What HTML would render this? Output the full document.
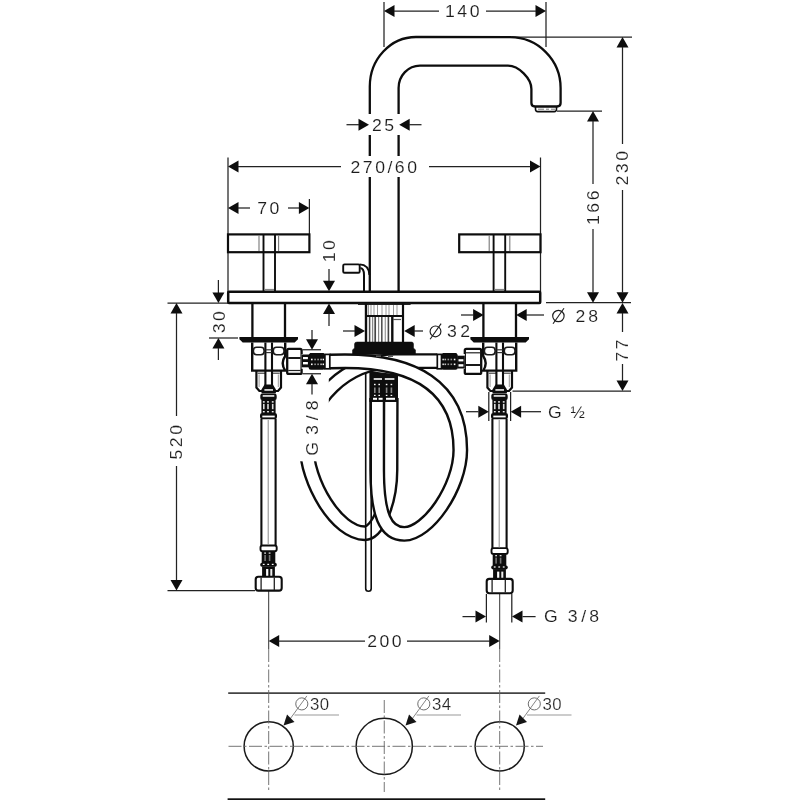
<!DOCTYPE html>
<html><head><meta charset="utf-8"><title>drawing</title>
<style>
html,body{margin:0;padding:0;background:#fff;}
body{width:800px;height:800px;overflow:hidden;}
svg{display:block;filter:blur(0.35px);}
text{font-family:"Liberation Sans",sans-serif;}
</style></head><body>
<svg width="800" height="800" viewBox="0 0 800 800">
<rect x="0" y="0" width="800" height="800" fill="#fff"/>
<line x1="384" y1="2" x2="384" y2="47" stroke="#222" stroke-width="1.25" />
<line x1="546" y1="2" x2="546" y2="47" stroke="#222" stroke-width="1.25" />
<line x1="512" y1="37" x2="632" y2="37" stroke="#222" stroke-width="1.25" />
<line x1="557" y1="111" x2="602" y2="111" stroke="#222" stroke-width="1.25" />
<line x1="546" y1="302.7" x2="631" y2="302.7" stroke="#222" stroke-width="1.25" />
<line x1="512.5" y1="391" x2="631" y2="391" stroke="#222" stroke-width="1.25" />
<line x1="228" y1="157.5" x2="228" y2="292" stroke="#222" stroke-width="1.25" />
<line x1="540.5" y1="157.5" x2="540.5" y2="292" stroke="#222" stroke-width="1.25" />
<line x1="309.4" y1="199" x2="309.4" y2="234" stroke="#222" stroke-width="1.25" />
<line x1="167.5" y1="303" x2="228" y2="303" stroke="#222" stroke-width="1.25" />
<line x1="209" y1="338" x2="238" y2="338" stroke="#222" stroke-width="1.25" />
<line x1="167.5" y1="590.5" x2="255" y2="590.5" stroke="#222" stroke-width="1.25" />
<line x1="302.5" y1="349.75" x2="321" y2="349.75" stroke="#222" stroke-width="1.25" />
<line x1="302.5" y1="373.75" x2="321" y2="373.75" stroke="#222" stroke-width="1.25" />
<line x1="488.8" y1="392" x2="488.8" y2="421" stroke="#222" stroke-width="1.25" />
<line x1="510.6" y1="392" x2="510.6" y2="421" stroke="#222" stroke-width="1.25" />
<line x1="486.4" y1="594" x2="486.4" y2="622.5" stroke="#222" stroke-width="1.25" />
<line x1="511.8" y1="594" x2="511.8" y2="622.5" stroke="#222" stroke-width="1.25" />
<line x1="268.7" y1="591" x2="268.7" y2="649" stroke="#333" stroke-width="1.0" />
<line x1="499.7" y1="593" x2="499.7" y2="649" stroke="#333" stroke-width="1.0" />
<path d="M369.8,292 L369.8,86.5 A46.2,49.5 0 0 1 416,37 L510,37.2 A50.6,50.8 0 0 1 560.6,88 L560.6,103 Q560.6,106.5 557,106.5 L535,106.5 Q531.4,106.5 531.4,103 L531.4,89 C531.4,78.4 518.6,65.6 508,65.6 L420,65.6 A21.4,22.4 0 0 0 398.6,88 L398.6,292" fill="none" stroke="#0d0d0d" stroke-width="2.3" />
<path d="M535.5,107 L535.5,109.3 Q535.5,111.6 537.8,111.6 L554.2,111.6 Q556.5,111.6 556.5,109.3 L556.5,107" fill="none" stroke="#0d0d0d" stroke-width="1.6" />
<line x1="538" y1="109.2" x2="544" y2="109.2" stroke="#777" stroke-width="1" />
<line x1="546" y1="109.2" x2="549" y2="109.2" stroke="#777" stroke-width="1" />
<line x1="551" y1="109.2" x2="555" y2="109.2" stroke="#777" stroke-width="1" />
<rect x="228" y="234.4" width="81.39999999999998" height="17.8" rx="0" fill="none" stroke="#0d0d0d" stroke-width="2.2" />
<line x1="259" y1="235.5" x2="259" y2="251" stroke="#777" stroke-width="1.1" />
<line x1="278.6" y1="235.5" x2="278.6" y2="251" stroke="#777" stroke-width="1.1" />
<line x1="263.5" y1="234.4" x2="263.5" y2="292" stroke="#0d0d0d" stroke-width="1.9" />
<line x1="275" y1="234.4" x2="275" y2="292" stroke="#0d0d0d" stroke-width="1.9" />
<line x1="264.5" y1="289.5" x2="274" y2="289.5" stroke="#888" stroke-width="1.2" />
<rect x="459.2" y="234.4" width="81.30000000000001" height="17.8" rx="0" fill="none" stroke="#0d0d0d" stroke-width="2.2" />
<line x1="489.2" y1="235.5" x2="489.2" y2="251" stroke="#777" stroke-width="1.1" />
<line x1="509.8" y1="235.5" x2="509.8" y2="251" stroke="#777" stroke-width="1.1" />
<line x1="493.6" y1="234.4" x2="493.6" y2="292" stroke="#0d0d0d" stroke-width="1.9" />
<line x1="505.2" y1="234.4" x2="505.2" y2="292" stroke="#0d0d0d" stroke-width="1.9" />
<line x1="494.6" y1="289.5" x2="504.2" y2="289.5" stroke="#888" stroke-width="1.2" />
<rect x="343.2" y="264.4" width="16.5" height="8.4" rx="1.3" fill="none" stroke="#0d0d0d" stroke-width="1.9" />
<path d="M359.7,264.4 C365,264.6 369,267.5 369.4,275" fill="none" stroke="#0d0d0d" stroke-width="1.9" />
<path d="M360.4,268 C362.6,268.2 364,270.5 364,275 L364,291.5" fill="none" stroke="#0d0d0d" stroke-width="2.0" />
<rect x="228.2" y="291.8" width="312.0" height="11.3" rx="0.8" fill="#fff" stroke="#0d0d0d" stroke-width="2.5" />
<line x1="358" y1="304.3" x2="410.6" y2="304.3" stroke="#222" stroke-width="1.4" />
<line x1="368.5" y1="305" x2="368.5" y2="315" stroke="#999" stroke-width="1.0" />
<line x1="371" y1="305" x2="371" y2="315" stroke="#999" stroke-width="1.0" />
<line x1="374" y1="305" x2="374" y2="315" stroke="#999" stroke-width="1.0" />
<line x1="377.5" y1="305" x2="377.5" y2="315" stroke="#999" stroke-width="1.0" />
<line x1="382" y1="305" x2="382" y2="315" stroke="#999" stroke-width="1.0" />
<line x1="386" y1="305" x2="386" y2="315" stroke="#999" stroke-width="1.0" />
<line x1="389" y1="305" x2="389" y2="315" stroke="#999" stroke-width="1.0" />
<line x1="393.5" y1="305" x2="393.5" y2="315" stroke="#999" stroke-width="1.0" />
<line x1="397" y1="305" x2="397" y2="315" stroke="#999" stroke-width="1.0" />
<line x1="366" y1="303.5" x2="366" y2="343" stroke="#0d0d0d" stroke-width="2.4" />
<line x1="403" y1="303.5" x2="403" y2="343" stroke="#0d0d0d" stroke-width="2.2" />
<line x1="366" y1="316" x2="403" y2="316" stroke="#0d0d0d" stroke-width="2.0" />
<line x1="369.6" y1="317" x2="369.6" y2="342" stroke="#444" stroke-width="1.5" />
<line x1="372.6" y1="317" x2="372.6" y2="342" stroke="#888" stroke-width="1.3" />
<line x1="375.2" y1="317" x2="375.2" y2="342" stroke="#444" stroke-width="1.7" />
<line x1="378.6" y1="317" x2="378.6" y2="342" stroke="#888" stroke-width="1.2" />
<line x1="381.8" y1="317" x2="381.8" y2="342" stroke="#555" stroke-width="1.6" />
<line x1="385.3" y1="317" x2="385.3" y2="342" stroke="#999" stroke-width="1.2" />
<line x1="388.4" y1="317" x2="388.4" y2="342" stroke="#444" stroke-width="1.6" />
<line x1="392.3" y1="317" x2="392.3" y2="342" stroke="#0d0d0d" stroke-width="2.4" />
<line x1="393" y1="319.5" x2="401" y2="319.5" stroke="#555" stroke-width="1.2" />
<path d="M357,342 L411.5,342 Q413.5,342 413.5,344 L413.5,348 L415.5,350 L415.5,354.5 L352.5,354.5 L352.5,350 L354.5,348 L354.5,344 Q354.5,342 357,342 Z" fill="#0d0d0d" stroke="#0d0d0d" stroke-width="0.5" />
<path d="M437.3,361.1 L395,361.1 C346,361.1 306.5,400 306.5,445 C306.5,482 336.9,533.2 364.8,533.2 C377.75,533.2 390.5,501.6 390.5,470 L390.7,398" fill="none" stroke="#0d0d0d" stroke-width="15.9" stroke-linecap="butt"/>
<path d="M437.3,361.1 L395,361.1 C346,361.1 306.5,400 306.5,445 C306.5,482 336.9,533.2 364.8,533.2 C377.75,533.2 390.5,501.6 390.5,470 L390.7,398" fill="none" stroke="#fff" stroke-width="11.1" stroke-linecap="butt"/>
<path d="M329.8,361.5 L345,361.2 C412,361.2 460.3,385 460.3,450 C460.3,487.6 427.5,533.9 404.3,533.9 C385.4,533.9 377.2,514.5 377.2,470 L377.2,398" fill="none" stroke="#0d0d0d" stroke-width="15.9" stroke-linecap="butt"/>
<path d="M329.8,361.5 L345,361.2 C412,361.2 460.3,385 460.3,450 C460.3,487.6 427.5,533.9 404.3,533.9 C385.4,533.9 377.2,514.5 377.2,470 L377.2,398" fill="none" stroke="#fff" stroke-width="11.1" stroke-linecap="butt"/>
<line x1="376" y1="356.2" x2="381" y2="356.2" stroke="#555" stroke-width="1.6" />
<line x1="388" y1="356.2" x2="393" y2="356.2" stroke="#555" stroke-width="1.6" />
<polygon points="369.4,370.9 398,374.6 398,402 369.4,402" fill="#0d0d0d"/>
<rect x="373.70" y="378.20" width="8.30" height="1.60" rx="0" fill="#fff"/>
<rect x="384.80" y="378.20" width="9.60" height="1.60" rx="0" fill="#fff"/>
<rect x="374.00" y="383.80" width="1.60" height="1.40" rx="0" fill="#fff"/>
<rect x="374.00" y="387.50" width="1.60" height="5.50" rx="0" fill="#888"/>
<rect x="374.00" y="394.80" width="1.60" height="1.20" rx="0" fill="#fff"/>
<rect x="378.40" y="383.80" width="1.60" height="1.40" rx="0" fill="#fff"/>
<rect x="378.40" y="387.50" width="1.60" height="5.50" rx="0" fill="#888"/>
<rect x="378.40" y="394.80" width="1.60" height="1.20" rx="0" fill="#fff"/>
<rect x="385.80" y="383.80" width="1.60" height="1.40" rx="0" fill="#fff"/>
<rect x="385.80" y="387.50" width="1.60" height="5.50" rx="0" fill="#888"/>
<rect x="385.80" y="394.80" width="1.60" height="1.20" rx="0" fill="#fff"/>
<rect x="390.60" y="383.80" width="1.60" height="1.40" rx="0" fill="#fff"/>
<rect x="390.60" y="387.50" width="1.60" height="5.50" rx="0" fill="#888"/>
<rect x="390.60" y="394.80" width="1.60" height="1.20" rx="0" fill="#fff"/>
<rect x="373.00" y="397.80" width="4.00" height="2.00" rx="0" fill="#fff"/>
<rect x="378.60" y="397.80" width="4.00" height="2.00" rx="0" fill="#fff"/>
<rect x="386.00" y="397.80" width="9.00" height="2.00" rx="0" fill="#fff"/>
<line x1="252.39999999999998" y1="302.5" x2="252.39999999999998" y2="337" stroke="#0d0d0d" stroke-width="2.3" />
<line x1="285.0" y1="302.5" x2="285.0" y2="337" stroke="#0d0d0d" stroke-width="2.3" />
<polygon points="239.39999999999998,336.9 298.0,336.9 298.0,339.2 294.7,342.4 242.7,342.4 239.39999999999998,339.2" fill="#0d0d0d"/>
<path d="M252.2,342.5 L252.2,370.6 L285.2,370.6 Q280.2,363.3 285.2,356 L285.2,342.5" fill="none" stroke="#0d0d0d" stroke-width="2.4" />
<path d="M256.4,370.6 L256.4,387.5 L259.4,391 L278.0,391 L281.0,387.5 L281.0,370.6" fill="none" stroke="#0d0d0d" stroke-width="2.2" />
<line x1="257.7" y1="373.2" x2="265.2" y2="373.2" stroke="#333" stroke-width="1.1" />
<line x1="272.2" y1="373.2" x2="279.7" y2="373.2" stroke="#333" stroke-width="1.1" />
<path d="M265.4,342.5 L265.4,385 M272.0,342.5 L272.0,385" fill="none" stroke="#0d0d0d" stroke-width="2.1" />
<polygon points="264.5,384.6 272.9,384.6 275.9,389.5 275.9,393.5 261.5,393.5 261.5,389.5" fill="#0d0d0d"/>
<rect x="264.4" y="389.2" width="8.6" height="1.5" fill="#fff"/>
<rect x="253.39999999999998" y="347.2" width="10.699999999999989" height="7.6" rx="3.2" fill="none" stroke="#1a1a1a" stroke-width="1.6" />
<line x1="259.09999999999997" y1="374.5" x2="259.09999999999997" y2="387" stroke="#999" stroke-width="1.0" />
<rect x="273.3" y="347.2" width="10.699999999999989" height="7.6" rx="3.2" fill="none" stroke="#1a1a1a" stroke-width="1.6" />
<line x1="278.3" y1="374.5" x2="278.3" y2="387" stroke="#999" stroke-width="1.0" />
<line x1="265.7" y1="349.8" x2="271.7" y2="349.8" stroke="#333" stroke-width="1.2" />
<line x1="265.7" y1="352.6" x2="271.7" y2="352.6" stroke="#333" stroke-width="1.2" />
<rect x="287.2" y="348.9" width="14.399999999999977" height="25.0" rx="1.5" fill="#fff" stroke="#0d0d0d" stroke-width="2.3" />
<line x1="288.2" y1="358.0" x2="300.59999999999997" y2="358.0" stroke="#0d0d0d" stroke-width="1.9" />
<line x1="288.2" y1="370.5" x2="300.59999999999997" y2="370.5" stroke="#222" stroke-width="1.2" />
<rect x="301.60" y="354.00" width="28.20" height="14.80" rx="0" fill="#fff"/>
<rect x="301.60" y="354.50" width="7.50" height="12.80" rx="0" fill="#0d0d0d"/>
<rect x="303.00" y="357.00" width="4.90" height="2.20" rx="0" fill="#fff"/>
<rect x="303.00" y="362.00" width="4.90" height="2.40" rx="0" fill="#fff"/>
<rect x="308.60" y="353.50" width="16.50" height="16.20" rx="2.2" fill="#0d0d0d"/>
<rect x="309.80" y="353.00" width="14.10" height="1.20" rx="0" fill="#0d0d0d"/>
<rect x="311.00" y="358.70" width="1.60" height="1.60" rx="0" fill="#fff"/>
<rect x="311.00" y="363.50" width="1.60" height="1.60" rx="0" fill="#fff"/>
<rect x="314.30" y="358.70" width="1.60" height="1.60" rx="0" fill="#999"/>
<rect x="314.30" y="363.50" width="1.60" height="1.60" rx="0" fill="#999"/>
<rect x="317.30" y="358.70" width="1.60" height="1.60" rx="0" fill="#999"/>
<rect x="317.30" y="363.50" width="1.60" height="1.60" rx="0" fill="#999"/>
<rect x="320.30" y="358.70" width="1.60" height="1.60" rx="0" fill="#bbb"/>
<rect x="320.30" y="363.50" width="1.60" height="1.60" rx="0" fill="#bbb"/>
<rect x="322.60" y="358.70" width="1.60" height="1.60" rx="0" fill="#fff"/>
<rect x="322.60" y="363.50" width="1.60" height="1.60" rx="0" fill="#fff"/>
<rect x="324.90" y="354.4" width="4.90" height="14.4" fill="#fff" stroke="#0d0d0d" stroke-width="1.7"/>
<rect x="260.40" y="393.60" width="16.60" height="25.60" rx="0" fill="#fff"/>
<rect x="260.30" y="393.60" width="16.40" height="6.50" rx="2.2" fill="#0d0d0d"/>
<rect x="262.70" y="395.20" width="11.60" height="1.50" rx="0" fill="#fff"/>
<rect x="261.40" y="399.60" width="14.20" height="14.10" rx="0" fill="#0d0d0d"/>
<rect x="263.00" y="403.90" width="1.60" height="5.30" rx="0" fill="#ddd"/>
<rect x="262.90" y="401.20" width="1.80" height="1.40" rx="0" fill="#fff"/>
<rect x="262.90" y="411.00" width="1.80" height="1.40" rx="0" fill="#eee"/>
<rect x="267.20" y="403.90" width="1.60" height="5.30" rx="0" fill="#ddd"/>
<rect x="267.10" y="401.20" width="1.80" height="1.40" rx="0" fill="#fff"/>
<rect x="267.10" y="411.00" width="1.80" height="1.40" rx="0" fill="#eee"/>
<rect x="271.90" y="403.90" width="1.60" height="5.30" rx="0" fill="#ddd"/>
<rect x="271.80" y="401.20" width="1.80" height="1.40" rx="0" fill="#fff"/>
<rect x="271.80" y="411.00" width="1.80" height="1.40" rx="0" fill="#eee"/>
<rect x="260.00" y="412.90" width="17.00" height="6.30" rx="2.2" fill="#0d0d0d"/>
<rect x="262.30" y="415.60" width="12.40" height="1.80" rx="0" fill="#fff"/>
<rect x="260.40" y="545.50" width="16.60" height="31.10" rx="0" fill="#fff"/>
<rect x="260.5" y="545.5" width="16.2" height="5.8" rx="2" fill="#fff" stroke="#0d0d0d" stroke-width="1.9"/>
<rect x="261.70" y="551.30" width="13.60" height="12.70" rx="0" fill="#0d0d0d"/>
<rect x="264.20" y="552.50" width="1.80" height="1.20" rx="0" fill="#eee"/>
<rect x="264.30" y="555.00" width="1.60" height="6.00" rx="0" fill="#777"/>
<rect x="268.70" y="552.50" width="1.80" height="1.20" rx="0" fill="#eee"/>
<rect x="268.80" y="555.00" width="1.60" height="6.00" rx="0" fill="#777"/>
<rect x="260.20" y="562.80" width="16.60" height="4.00" rx="1.8" fill="#0d0d0d"/>
<rect x="262.80" y="563.80" width="1.80" height="1.20" rx="0" fill="#fff"/>
<rect x="267.30" y="563.80" width="1.80" height="1.20" rx="0" fill="#fff"/>
<rect x="271.80" y="563.80" width="1.80" height="1.20" rx="0" fill="#fff"/>
<rect x="262.10" y="566.50" width="12.80" height="10.10" rx="0" fill="#0d0d0d"/>
<rect x="266.10" y="569.00" width="2.20" height="7.60" rx="0" fill="#fff"/>
<rect x="270.30" y="569.00" width="2.00" height="7.60" rx="0" fill="#eee"/>
<rect x="255.7" y="576.8" width="26.0" height="13.8" rx="2.6" fill="#fff" stroke="#0d0d0d" stroke-width="2.1" />
<line x1="261.09999999999997" y1="577.5" x2="261.09999999999997" y2="590" stroke="#222" stroke-width="1.3" />
<line x1="274.3" y1="577.5" x2="274.3" y2="590" stroke="#222" stroke-width="1.3" />
<line x1="261.4" y1="419" x2="261.4" y2="545.5" stroke="#0d0d0d" stroke-width="2.1" />
<line x1="275.59999999999997" y1="419" x2="275.59999999999997" y2="545.5" stroke="#0d0d0d" stroke-width="2.1" />
<line x1="268.2" y1="420" x2="268.2" y2="545" stroke="#888" stroke-width="1.0" />
<line x1="483.4" y1="302.5" x2="483.4" y2="337" stroke="#0d0d0d" stroke-width="2.3" />
<line x1="516.0" y1="302.5" x2="516.0" y2="337" stroke="#0d0d0d" stroke-width="2.3" />
<polygon points="470.4,336.9 529.0,336.9 529.0,339.2 525.7,342.4 473.7,342.4 470.4,339.2" fill="#0d0d0d"/>
<path d="M516.2,342.5 L516.2,370.6 L483.2,370.6 Q488.2,363.3 483.2,356 L483.2,342.5" fill="none" stroke="#0d0d0d" stroke-width="2.4" />
<path d="M487.4,370.6 L487.4,387.5 L490.4,391 L509.0,391 L512.0,387.5 L512.0,370.6" fill="none" stroke="#0d0d0d" stroke-width="2.2" />
<line x1="488.7" y1="373.2" x2="496.2" y2="373.2" stroke="#333" stroke-width="1.1" />
<line x1="503.2" y1="373.2" x2="510.7" y2="373.2" stroke="#333" stroke-width="1.1" />
<path d="M496.4,342.5 L496.4,385 M503.0,342.5 L503.0,385" fill="none" stroke="#0d0d0d" stroke-width="2.1" />
<polygon points="495.5,384.6 503.9,384.6 506.9,389.5 506.9,393.5 492.5,393.5 492.5,389.5" fill="#0d0d0d"/>
<rect x="495.4" y="389.2" width="8.6" height="1.5" fill="#fff"/>
<rect x="484.4" y="347.2" width="10.699999999999989" height="7.6" rx="3.2" fill="none" stroke="#1a1a1a" stroke-width="1.6" />
<line x1="490.09999999999997" y1="374.5" x2="490.09999999999997" y2="387" stroke="#999" stroke-width="1.0" />
<rect x="504.3" y="347.2" width="10.699999999999989" height="7.6" rx="3.2" fill="none" stroke="#1a1a1a" stroke-width="1.6" />
<line x1="509.3" y1="374.5" x2="509.3" y2="387" stroke="#999" stroke-width="1.0" />
<line x1="496.7" y1="349.8" x2="502.7" y2="349.8" stroke="#333" stroke-width="1.2" />
<line x1="496.7" y1="352.6" x2="502.7" y2="352.6" stroke="#333" stroke-width="1.2" />
<rect x="464.8" y="348.9" width="16.399999999999977" height="25.0" rx="1.5" fill="#fff" stroke="#0d0d0d" stroke-width="2.3" />
<line x1="465.8" y1="365.0" x2="480.2" y2="365.0" stroke="#0d0d0d" stroke-width="1.9" />
<line x1="465.8" y1="352.8" x2="480.2" y2="352.8" stroke="#222" stroke-width="1.2" />
<rect x="437.30" y="354.00" width="27.50" height="14.80" rx="0" fill="#fff"/>
<rect x="457.30" y="355.70" width="7.50" height="12.80" rx="0" fill="#0d0d0d"/>
<rect x="458.50" y="359.20" width="4.90" height="2.20" rx="0" fill="#fff"/>
<rect x="458.50" y="364.20" width="4.90" height="2.40" rx="0" fill="#fff"/>
<rect x="441.30" y="353.50" width="16.50" height="16.20" rx="2.2" fill="#0d0d0d"/>
<rect x="442.50" y="353.00" width="14.10" height="1.20" rx="0" fill="#0d0d0d"/>
<rect x="453.80" y="358.70" width="1.60" height="1.60" rx="0" fill="#fff"/>
<rect x="453.80" y="363.50" width="1.60" height="1.60" rx="0" fill="#fff"/>
<rect x="450.50" y="358.70" width="1.60" height="1.60" rx="0" fill="#999"/>
<rect x="450.50" y="363.50" width="1.60" height="1.60" rx="0" fill="#999"/>
<rect x="447.50" y="358.70" width="1.60" height="1.60" rx="0" fill="#999"/>
<rect x="447.50" y="363.50" width="1.60" height="1.60" rx="0" fill="#999"/>
<rect x="444.50" y="358.70" width="1.60" height="1.60" rx="0" fill="#bbb"/>
<rect x="444.50" y="363.50" width="1.60" height="1.60" rx="0" fill="#bbb"/>
<rect x="442.20" y="358.70" width="1.60" height="1.60" rx="0" fill="#fff"/>
<rect x="442.20" y="363.50" width="1.60" height="1.60" rx="0" fill="#fff"/>
<rect x="437.30" y="354.4" width="4.20" height="14.4" fill="#fff" stroke="#0d0d0d" stroke-width="1.7"/>
<rect x="491.40" y="393.60" width="16.60" height="25.60" rx="0" fill="#fff"/>
<rect x="491.30" y="393.60" width="16.40" height="6.50" rx="2.2" fill="#0d0d0d"/>
<rect x="493.70" y="395.20" width="11.60" height="1.50" rx="0" fill="#fff"/>
<rect x="492.40" y="399.60" width="14.20" height="14.10" rx="0" fill="#0d0d0d"/>
<rect x="494.00" y="403.90" width="1.60" height="5.30" rx="0" fill="#ddd"/>
<rect x="493.90" y="401.20" width="1.80" height="1.40" rx="0" fill="#fff"/>
<rect x="493.90" y="411.00" width="1.80" height="1.40" rx="0" fill="#eee"/>
<rect x="498.20" y="403.90" width="1.60" height="5.30" rx="0" fill="#ddd"/>
<rect x="498.10" y="401.20" width="1.80" height="1.40" rx="0" fill="#fff"/>
<rect x="498.10" y="411.00" width="1.80" height="1.40" rx="0" fill="#eee"/>
<rect x="502.90" y="403.90" width="1.60" height="5.30" rx="0" fill="#ddd"/>
<rect x="502.80" y="401.20" width="1.80" height="1.40" rx="0" fill="#fff"/>
<rect x="502.80" y="411.00" width="1.80" height="1.40" rx="0" fill="#eee"/>
<rect x="491.00" y="412.90" width="17.00" height="6.30" rx="2.2" fill="#0d0d0d"/>
<rect x="493.30" y="415.60" width="12.40" height="1.80" rx="0" fill="#fff"/>
<rect x="491.40" y="548.10" width="16.60" height="30.58" rx="0" fill="#fff"/>
<rect x="491.5" y="548.1" width="16.2" height="5.8" rx="2" fill="#fff" stroke="#0d0d0d" stroke-width="1.9"/>
<rect x="492.70" y="553.90" width="13.60" height="12.70" rx="0" fill="#0d0d0d"/>
<rect x="495.20" y="555.10" width="1.80" height="1.20" rx="0" fill="#eee"/>
<rect x="495.30" y="557.60" width="1.60" height="6.00" rx="0" fill="#777"/>
<rect x="499.70" y="555.10" width="1.80" height="1.20" rx="0" fill="#eee"/>
<rect x="499.80" y="557.60" width="1.60" height="6.00" rx="0" fill="#777"/>
<rect x="491.20" y="565.40" width="16.60" height="4.00" rx="1.8" fill="#0d0d0d"/>
<rect x="493.80" y="566.40" width="1.80" height="1.20" rx="0" fill="#fff"/>
<rect x="498.30" y="566.40" width="1.80" height="1.20" rx="0" fill="#fff"/>
<rect x="502.80" y="566.40" width="1.80" height="1.20" rx="0" fill="#fff"/>
<rect x="493.10" y="569.10" width="12.80" height="9.58" rx="0" fill="#0d0d0d"/>
<rect x="497.10" y="571.60" width="2.20" height="7.08" rx="0" fill="#fff"/>
<rect x="501.30" y="571.60" width="2.00" height="7.08" rx="0" fill="#eee"/>
<rect x="486.7" y="578.88" width="26.0" height="14.32" rx="2.6" fill="#fff" stroke="#0d0d0d" stroke-width="2.1" />
<line x1="492.09999999999997" y1="579.58" x2="492.09999999999997" y2="592.6" stroke="#222" stroke-width="1.3" />
<line x1="505.3" y1="579.58" x2="505.3" y2="592.6" stroke="#222" stroke-width="1.3" />
<line x1="492.4" y1="419" x2="492.4" y2="548.1" stroke="#0d0d0d" stroke-width="2.1" />
<line x1="506.59999999999997" y1="419" x2="506.59999999999997" y2="548.1" stroke="#0d0d0d" stroke-width="2.1" />
<line x1="499.2" y1="420" x2="499.2" y2="547.6" stroke="#888" stroke-width="1.0" />
<path d="M365.7,373 L365.7,588.5 Q365.7,591.3 368.5,591.3 Q371.2,591.3 371.2,588.5 L371.2,373" fill="none" stroke="#0d0d0d" stroke-width="1.6" />
<rect x="294" y="376.5" width="34.8" height="84.8" fill="#fff"/>
<line x1="228.2" y1="693.2" x2="545.2" y2="693.2" stroke="#444" stroke-width="1.7" />
<rect x="227.6" y="798.3" width="317.6" height="2" fill="#111"/>
<circle cx="268.7" cy="746.3" r="24.6" fill="none" stroke="#1a1a1a" stroke-width="1.5"/>
<circle cx="384.25" cy="746.3" r="28.1" fill="none" stroke="#1a1a1a" stroke-width="1.5"/>
<circle cx="499.7" cy="746.3" r="24.6" fill="none" stroke="#1a1a1a" stroke-width="1.5"/>
<line x1="228.5" y1="746.3" x2="543" y2="746.3" stroke="#666" stroke-width="0.9" stroke-dasharray="13 2.5 2.5 2.5"/>
<line x1="268.7" y1="649" x2="268.7" y2="792" stroke="#666" stroke-width="0.9" stroke-dasharray="13 2.5 2.5 2.5"/>
<line x1="499.7" y1="649" x2="499.7" y2="792" stroke="#666" stroke-width="0.9" stroke-dasharray="13 2.5 2.5 2.5"/>
<line x1="384.25" y1="700" x2="384.25" y2="792" stroke="#666" stroke-width="0.9" stroke-dasharray="13 2.5 2.5 2.5"/>
<line x1="306.90000000000003" y1="695.9" x2="290.2" y2="718.8" stroke="#777" stroke-width="0.9" />
<polygon points="283.50,725.40 287.04,714.47 294.48,722.01" fill="#151515"/>
<circle cx="301.8" cy="703.9" r="6.05" fill="none" stroke="#666" stroke-width="0.95"/>
<line x1="294.5" y1="714.9" x2="339.0" y2="714.9" stroke="#999" stroke-width="1.05" />
<text transform="translate(310.1,709.7) scale(1.0,1)" text-anchor="start" style="font-size:16.8px;letter-spacing:0.2px;" fill="#222" stroke="#fff" stroke-width="0.2" paint-order="fill" >30</text>
<line x1="428.90000000000003" y1="695.9" x2="412.2" y2="718.8" stroke="#777" stroke-width="0.9" />
<polygon points="405.50,725.40 409.04,714.47 416.48,722.01" fill="#151515"/>
<circle cx="423.8" cy="703.9" r="6.05" fill="none" stroke="#666" stroke-width="0.95"/>
<line x1="416.5" y1="714.9" x2="461.0" y2="714.9" stroke="#999" stroke-width="1.05" />
<text transform="translate(432.1,709.7) scale(1.0,1)" text-anchor="start" style="font-size:16.8px;letter-spacing:0.2px;" fill="#222" stroke="#fff" stroke-width="0.2" paint-order="fill" >34</text>
<line x1="539.4" y1="695.9" x2="522.6999999999999" y2="718.8" stroke="#777" stroke-width="0.9" />
<polygon points="516.00,725.40 519.54,714.47 526.98,722.01" fill="#151515"/>
<circle cx="534.3" cy="703.9" r="6.05" fill="none" stroke="#666" stroke-width="0.95"/>
<line x1="527" y1="714.9" x2="571.5" y2="714.9" stroke="#999" stroke-width="1.05" />
<text transform="translate(542.6,709.7) scale(1.0,1)" text-anchor="start" style="font-size:16.8px;letter-spacing:0.2px;" fill="#222" stroke="#fff" stroke-width="0.2" paint-order="fill" >30</text>
<polygon points="384.00,11.00 394.50,5.00 394.50,17.00" fill="#0d0d0d"/>
<polygon points="546.00,11.00 535.50,17.00 535.50,5.00" fill="#0d0d0d"/>
<line x1="394" y1="11" x2="439" y2="11" stroke="#222" stroke-width="1.25" />
<line x1="486" y1="11" x2="536" y2="11" stroke="#222" stroke-width="1.25" />
<text transform="translate(463.5,16.6) scale(1.09,1)" text-anchor="middle" style="font-size:16.2px;letter-spacing:2.3px;" fill="#1c1c1c" stroke="#fff" stroke-width="0.12" paint-order="fill" >140</text>
<polygon points="622.50,37.00 628.50,47.50 616.50,47.50" fill="#0d0d0d"/>
<line x1="622.5" y1="47" x2="622.5" y2="144" stroke="#222" stroke-width="1.25" />
<line x1="622.5" y1="190" x2="622.5" y2="292.5" stroke="#222" stroke-width="1.25" />
<polygon points="622.50,302.70 616.50,292.20 628.50,292.20" fill="#0d0d0d"/>
<text transform="translate(628.2,167) rotate(-90) scale(1.09,1)" text-anchor="middle" style="font-size:16.2px;letter-spacing:2.3px;" fill="#1c1c1c" stroke="#fff" stroke-width="0.12" paint-order="fill" >230</text>
<polygon points="593.00,111.00 599.00,121.50 587.00,121.50" fill="#0d0d0d"/>
<line x1="593" y1="121" x2="593" y2="184" stroke="#222" stroke-width="1.25" />
<line x1="593" y1="229" x2="593" y2="292.5" stroke="#222" stroke-width="1.25" />
<polygon points="593.00,302.70 587.00,292.20 599.00,292.20" fill="#0d0d0d"/>
<text transform="translate(598.7,206.5) rotate(-90) scale(1.09,1)" text-anchor="middle" style="font-size:16.2px;letter-spacing:2.3px;" fill="#1c1c1c" stroke="#fff" stroke-width="0.12" paint-order="fill" >166</text>
<polygon points="622.50,303.00 628.50,313.50 616.50,313.50" fill="#0d0d0d"/>
<line x1="622.5" y1="313" x2="622.5" y2="332" stroke="#222" stroke-width="1.25" />
<line x1="622.5" y1="364" x2="622.5" y2="381" stroke="#222" stroke-width="1.25" />
<polygon points="622.50,391.00 616.50,380.50 628.50,380.50" fill="#0d0d0d"/>
<text transform="translate(628.2,349.5) rotate(-90) scale(1.09,1)" text-anchor="middle" style="font-size:16.2px;letter-spacing:2.3px;" fill="#1c1c1c" stroke="#fff" stroke-width="0.12" paint-order="fill" >77</text>
<rect x="366" y="114" width="37" height="21" fill="#fff"/>
<polygon points="369.00,124.70 358.50,130.70 358.50,118.70" fill="#0d0d0d"/>
<line x1="346.5" y1="124.7" x2="359" y2="124.7" stroke="#222" stroke-width="1.25" />
<polygon points="399.20,124.70 409.70,118.70 409.70,130.70" fill="#0d0d0d"/>
<line x1="409.2" y1="124.7" x2="421.5" y2="124.7" stroke="#222" stroke-width="1.25" />
<text transform="translate(384.3,130.6) scale(1.09,1)" text-anchor="middle" style="font-size:16.2px;letter-spacing:2.3px;" fill="#1c1c1c" stroke="#fff" stroke-width="0.12" paint-order="fill" >25</text>
<rect x="345" y="156" width="80" height="21" fill="#fff"/>
<polygon points="228.00,166.50 238.50,160.50 238.50,172.50" fill="#0d0d0d"/>
<line x1="238" y1="166.5" x2="341" y2="166.5" stroke="#222" stroke-width="1.25" />
<polygon points="540.50,166.50 530.00,172.50 530.00,160.50" fill="#0d0d0d"/>
<line x1="429" y1="166.5" x2="530.5" y2="166.5" stroke="#222" stroke-width="1.25" />
<text transform="translate(385,172.5) scale(1.09,1)" text-anchor="middle" style="font-size:16.2px;letter-spacing:2.3px;" fill="#1c1c1c" stroke="#fff" stroke-width="0.12" paint-order="fill" >270/60</text>
<polygon points="228.00,208.00 238.50,202.00 238.50,214.00" fill="#0d0d0d"/>
<line x1="238" y1="208" x2="250" y2="208" stroke="#222" stroke-width="1.25" />
<line x1="288" y1="208" x2="299.4" y2="208" stroke="#222" stroke-width="1.25" />
<polygon points="309.40,208.00 298.90,214.00 298.90,202.00" fill="#0d0d0d"/>
<text transform="translate(269.5,213.6) scale(1.09,1)" text-anchor="middle" style="font-size:16.2px;letter-spacing:2.3px;" fill="#1c1c1c" stroke="#fff" stroke-width="0.12" paint-order="fill" >70</text>
<line x1="329" y1="269" x2="329" y2="282" stroke="#222" stroke-width="1.25" />
<polygon points="329.00,291.20 323.00,280.70 335.00,280.70" fill="#0d0d0d"/>
<polygon points="329.00,303.50 335.00,314.00 323.00,314.00" fill="#0d0d0d"/>
<line x1="329" y1="313.5" x2="329" y2="326" stroke="#222" stroke-width="1.25" />
<text transform="translate(334.8,250) rotate(-90) scale(1.09,1)" text-anchor="middle" style="font-size:16.2px;letter-spacing:2.3px;" fill="#1c1c1c" stroke="#fff" stroke-width="0.12" paint-order="fill" >10</text>
<line x1="218.4" y1="280" x2="218.4" y2="293" stroke="#222" stroke-width="1.25" />
<polygon points="218.40,303.00 212.40,292.50 224.40,292.50" fill="#0d0d0d"/>
<polygon points="218.40,338.00 224.40,348.50 212.40,348.50" fill="#0d0d0d"/>
<line x1="218.4" y1="348" x2="218.4" y2="360" stroke="#222" stroke-width="1.25" />
<text transform="translate(224.6,321) rotate(-90) scale(1.09,1)" text-anchor="middle" style="font-size:16.2px;letter-spacing:2.3px;" fill="#1c1c1c" stroke="#fff" stroke-width="0.12" paint-order="fill" >30</text>
<polygon points="176.50,303.00 182.50,313.50 170.50,313.50" fill="#0d0d0d"/>
<line x1="176.5" y1="313" x2="176.5" y2="416" stroke="#222" stroke-width="1.25" />
<line x1="176.5" y1="466" x2="176.5" y2="580.5" stroke="#222" stroke-width="1.25" />
<polygon points="176.50,590.50 170.50,580.00 182.50,580.00" fill="#0d0d0d"/>
<text transform="translate(182.3,441) rotate(-90) scale(1.09,1)" text-anchor="middle" style="font-size:16.2px;letter-spacing:2.3px;" fill="#1c1c1c" stroke="#fff" stroke-width="0.12" paint-order="fill" >520</text>
<polygon points="365.00,331.00 354.50,337.00 354.50,325.00" fill="#0d0d0d"/>
<line x1="343" y1="331" x2="355" y2="331" stroke="#222" stroke-width="1.25" />
<polygon points="404.20,331.00 414.70,325.00 414.70,337.00" fill="#0d0d0d"/>
<line x1="414" y1="331" x2="423" y2="331" stroke="#222" stroke-width="1.25" />
<polygon points="483.60,315.00 473.10,321.00 473.10,309.00" fill="#0d0d0d"/>
<line x1="461" y1="315" x2="474" y2="315" stroke="#222" stroke-width="1.25" />
<polygon points="516.20,315.00 526.70,309.00 526.70,321.00" fill="#0d0d0d"/>
<line x1="526" y1="315" x2="544" y2="315" stroke="#222" stroke-width="1.25" />
<circle cx="435.5" cy="331.4" r="5.4" fill="none" stroke="#1c1c1c" stroke-width="1.15"/>
<line x1="430.1" y1="339.2" x2="441.1" y2="323.59999999999997" stroke="#1c1c1c" stroke-width="1.1" />
<text transform="translate(447.0,337) scale(1.09,1)" text-anchor="start" style="font-size:16.2px;letter-spacing:3.2px;" fill="#1c1c1c" stroke="#fff" stroke-width="0.12" paint-order="fill" >32</text>
<circle cx="558.4" cy="316.0" r="5.7" fill="none" stroke="#1c1c1c" stroke-width="1.15"/>
<line x1="553.0" y1="323.8" x2="564.0" y2="308.2" stroke="#1c1c1c" stroke-width="1.1" />
<text transform="translate(575.6,321.6) scale(1.09,1)" text-anchor="start" style="font-size:16.2px;letter-spacing:2.6px;" fill="#1c1c1c" stroke="#fff" stroke-width="0.12" paint-order="fill" >28</text>
<text transform="translate(548.0,417.8) scale(1.09,1)" text-anchor="start" style="font-size:16.2px;letter-spacing:2.3px;" fill="#1c1c1c" stroke="#fff" stroke-width="0.12" paint-order="fill" >G</text>
<text transform="translate(570.4,417.9) scale(1.0,1)" text-anchor="start" style="font-size:17.2px;letter-spacing:0px;" fill="#1c1c1c" stroke="#fff" stroke-width="0.12" paint-order="fill" >½</text>
<line x1="312" y1="330" x2="312" y2="340.5" stroke="#222" stroke-width="1.25" />
<polygon points="312.00,349.75 306.00,339.25 318.00,339.25" fill="#0d0d0d"/>
<polygon points="312.00,373.75 318.00,384.25 306.00,384.25" fill="#0d0d0d"/>
<line x1="312" y1="383.7" x2="312" y2="394.5" stroke="#222" stroke-width="1.25" />
<text transform="translate(317.8,448.9) rotate(-90) scale(1.09,1)" x="0.00 17.34 28.62 40.00" text-anchor="middle" style="font-size:16.2px" fill="#1c1c1c" stroke="#fff" stroke-width="0.12" paint-order="fill">G3/8</text>
<polygon points="488.80,411.70 478.30,417.70 478.30,405.70" fill="#0d0d0d"/>
<line x1="466" y1="411.7" x2="478.5" y2="411.7" stroke="#222" stroke-width="1.25" />
<polygon points="510.60,411.70 521.10,405.70 521.10,417.70" fill="#0d0d0d"/>
<line x1="521" y1="411.7" x2="541" y2="411.7" stroke="#222" stroke-width="1.25" />
<polygon points="486.00,616.60 475.50,622.60 475.50,610.60" fill="#0d0d0d"/>
<line x1="462.5" y1="616.6" x2="475.5" y2="616.6" stroke="#222" stroke-width="1.25" />
<polygon points="512.00,616.60 522.50,610.60 522.50,622.60" fill="#0d0d0d"/>
<line x1="522.5" y1="616.6" x2="535.6" y2="616.6" stroke="#222" stroke-width="1.25" />
<text transform="translate(550.9,622.4) scale(1.09,1)" x="0.00 19.91 30.00 39.72" text-anchor="middle" style="font-size:16.2px" fill="#1c1c1c" stroke="#fff" stroke-width="0.12" paint-order="fill">G3/8</text>
<polygon points="268.70,641.00 279.20,635.00 279.20,647.00" fill="#0d0d0d"/>
<line x1="278.7" y1="641" x2="365" y2="641" stroke="#222" stroke-width="1.25" />
<line x1="407" y1="641" x2="489.7" y2="641" stroke="#222" stroke-width="1.25" />
<polygon points="499.70,641.00 489.20,647.00 489.20,635.00" fill="#0d0d0d"/>
<text transform="translate(385.7,646.8) scale(1.09,1)" text-anchor="middle" style="font-size:16.2px;letter-spacing:2.3px;" fill="#1c1c1c" stroke="#fff" stroke-width="0.12" paint-order="fill" >200</text>
</svg>
</body></html>
